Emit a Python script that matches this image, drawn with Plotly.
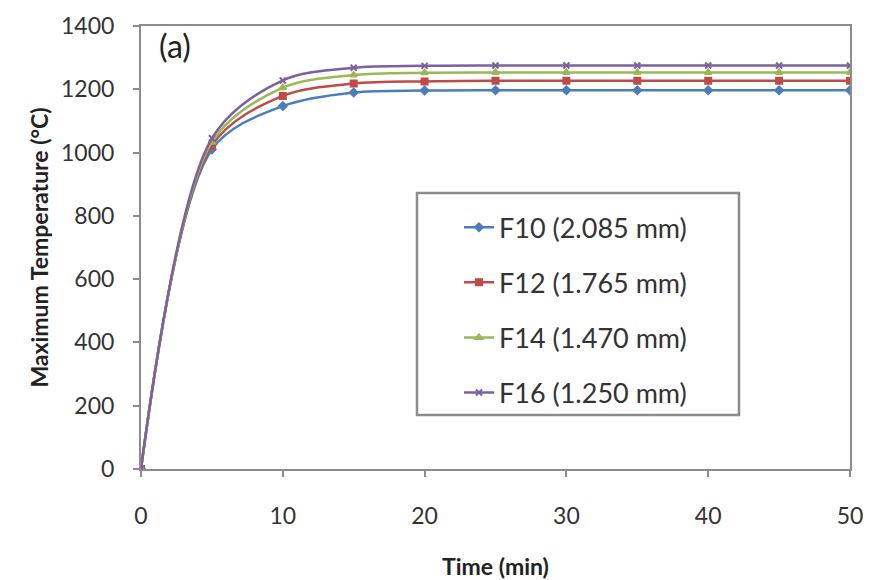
import plotly.graph_objects as go

time_min = [0, 5, 10, 15, 20, 25, 30, 35, 40, 45, 50]
f10 = [0, 1010, 1147, 1190, 1196, 1197, 1197, 1197, 1197, 1197, 1197]
f12 = [0, 1022, 1179, 1218, 1225, 1227, 1227, 1227, 1227, 1227, 1227]
f14 = [0, 1033, 1205, 1245, 1252, 1253, 1253, 1253, 1253, 1253, 1253]
f16 = [0, 1045, 1228, 1268, 1274, 1275, 1275, 1275, 1275, 1275, 1275]

names = ["F10 (2.085 mm)", "F12 (1.765 mm)", "F14 (1.470 mm)", "F16 (1.250 mm)"]
colors = ["#4A7EBB", "#BE4B48", "#98B954", "#7D60A0"]
symbols = ["diamond", "square", "triangle-up", "x-thin-open"]
series = [f10, f12, f14, f16]

FONT = "Lato"
fig = go.Figure()
for i, (nm, ys) in enumerate(zip(names, series)):
    fig.add_trace(go.Scatter(
        x=time_min, y=ys, name=nm, mode="lines+markers",
        line=dict(color=colors[i], width=2.5, shape="spline", smoothing=0.9),
        marker=dict(symbol=symbols[i], size=6, color=colors[i],
                    line=dict(color=colors[i], width=2)),
        legendgroup=f"g{i}",
    ))

axis_common = dict(showgrid=False, zeroline=False, showline=True, linecolor="#8C8C8C",
                   linewidth=2, mirror=True, ticks="outside", ticklen=6, tickwidth=1.5,
                   tickcolor="#8C8C8C", tickfont=dict(family=FONT, size=23, color="#333333"),
                   automargin=False)

fig.update_layout(
    width=871, height=580,
    margin=dict(l=141, r=21, t=26, b=111),
    paper_bgcolor="white", plot_bgcolor="white",
    showlegend=True,
    legend=dict(x=(459 - 141) / 709, y=0.60, xanchor="left", yanchor="top",
                bgcolor="rgba(0,0,0,0)", borderwidth=0,
                font=dict(family=FONT, size=27, color="#333333"),
                tracegroupgap=17, itemwidth=30),
    xaxis=dict(range=[0, 50], tickvals=[0, 10, 20, 30, 40, 50], ticklabelstandoff=19,
               title=dict(text="<b>Time (min)</b>", standoff=32,
                          font=dict(family=FONT, size=23, color="#222222")),
               **axis_common),
    yaxis=dict(range=[0, 1400], tickvals=[0, 200, 400, 600, 800, 1000, 1200, 1400],
               ticklabelstandoff=14,
               title=dict(text="<b>Maximum Temperature (°C)</b>", standoff=6,
                          font=dict(family=FONT, size=23, color="#222222")),
               **axis_common),
    shapes=[dict(type="rect", xref="paper", yref="paper",
                 x0=(417 - 141) / 709, x1=(739 - 141) / 709,
                 y0=(469 - 415) / 443, y1=(469 - 193) / 443,
                 line=dict(color="#8C8C8C", width=2.5), fillcolor="rgba(0,0,0,0)")],
    annotations=[dict(text="(a)", xref="paper", yref="paper", x=0.022, y=0.957,
                      xanchor="left", yanchor="middle", showarrow=False,
                      font=dict(family=FONT, size=32, color="#222222"))],
)

fig.write_html("out.html")
